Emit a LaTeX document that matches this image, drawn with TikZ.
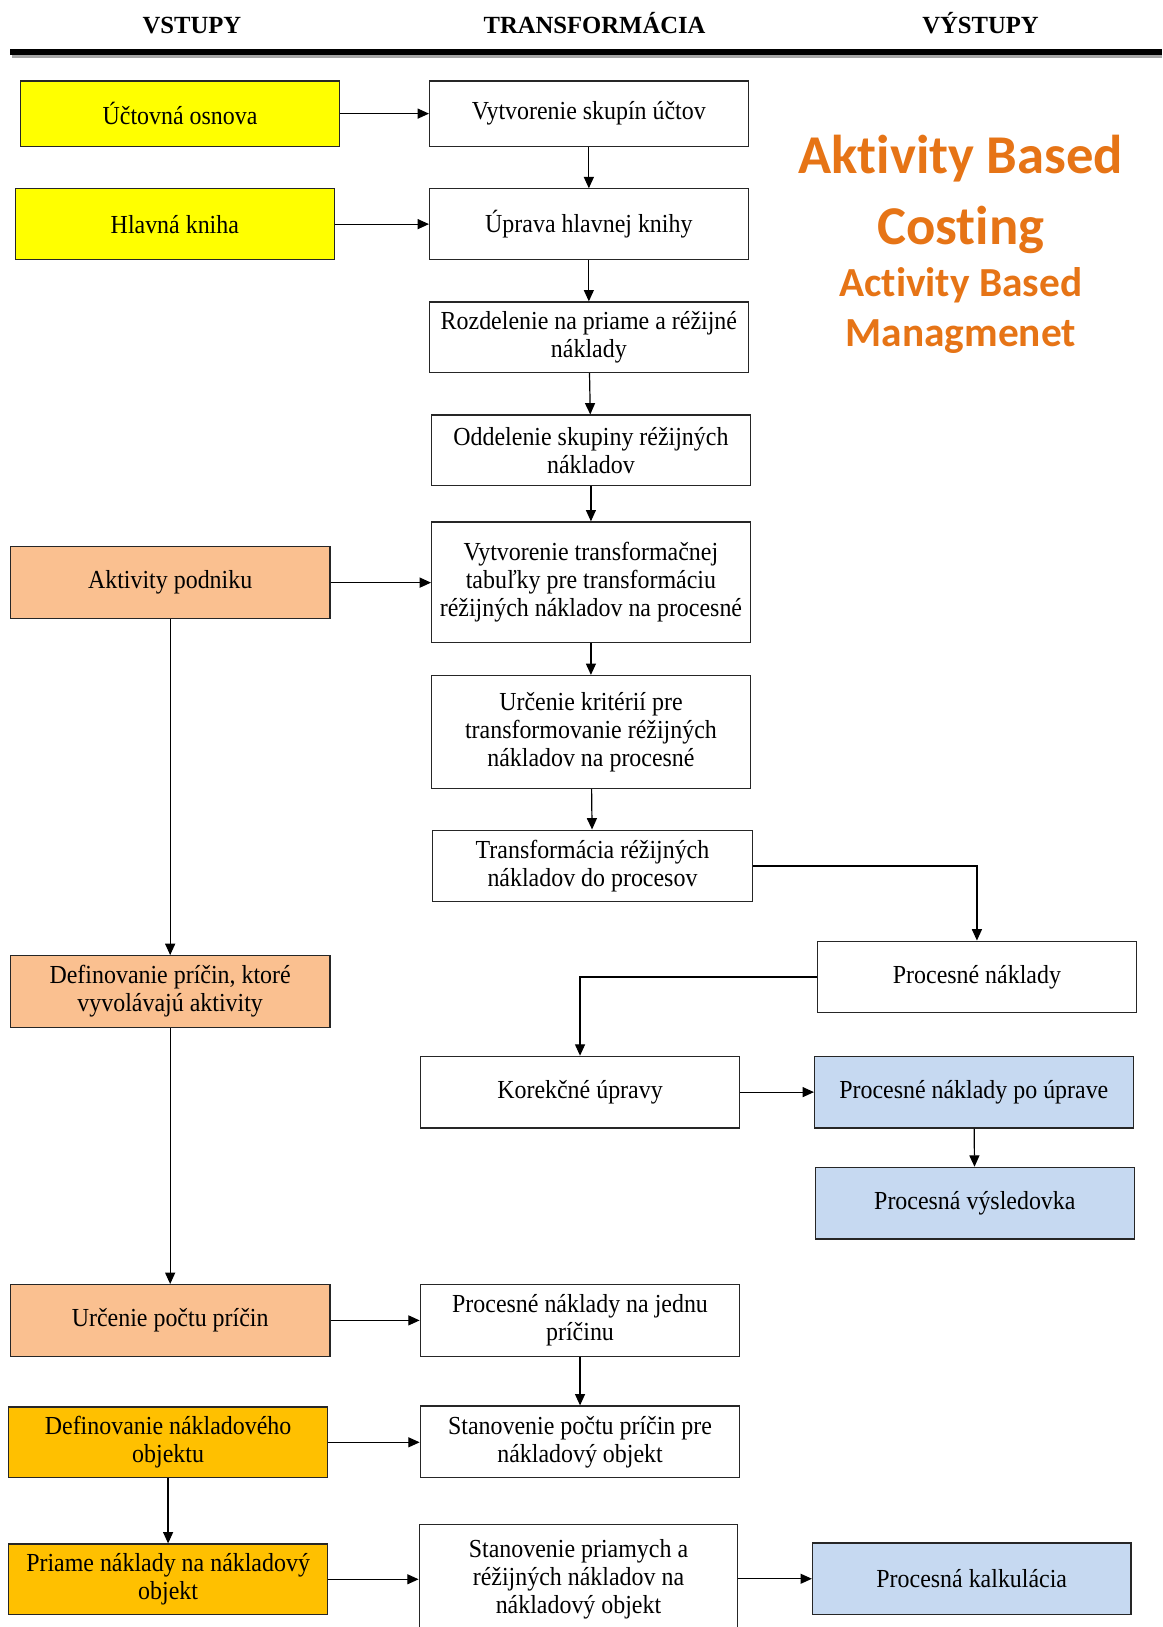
\documentclass[tikz,border=0pt]{standalone}
\usepackage{fontspec}
\setmainfont{Liberation Serif}
\newfontfamily\boxfont{Liberation Serif}[FakeStretch=0.92]
\newfontfamily\titlefont{Carlito}[Ligatures=NoCommon]
\usetikzlibrary{arrows.meta}

\definecolor{boxyellow}{HTML}{FFFF00}
\definecolor{boxpeach}{HTML}{FAC090}
\definecolor{boxgold}{HTML}{FFC000}
\definecolor{boxblue}{HTML}{C6D9F1}
\definecolor{titleorange}{RGB}{230,116,22}

% box given by its corners: name, style, x1, y1, x2, y2, text
\newcommand{\bx}[7]{%
  \node[#2, minimum width={(#5-#3)*0.778125pt}, minimum height={(#6-#4)*0.778125pt}]
    (#1) at ({(#3+#5)/2},{(#4+#6)/2}) {#7};}

\begin{document}
\begin{tikzpicture}[x=0.778125pt, y=-0.778125pt,
  box/.style={draw=black!85, line width=0.9pt, inner sep=0pt, align=center,
    font=\boxfont\fontsize{19.5}{21}\selectfont},
  yellowbox/.style={box, fill=boxyellow},
  peachbox/.style={box, fill=boxpeach},
  goldbox/.style={box, fill=boxgold},
  bluebox/.style={box, fill=boxblue},
  whitebox/.style={box, fill=white},
  conn/.style={draw=black, line width=0.9pt, -{Triangle[length=8.5pt, width=7.5pt]}},
  header/.style={font=\fontsize{18.5}{21}\selectfont\bfseries, anchor=base},
  bigtitle/.style={font=\titlefont\bfseries\fontsize{41}{48}\selectfont, text=titleorange, anchor=base},
  subtitle/.style={font=\titlefont\bfseries\fontsize{31}{36}\selectfont, text=titleorange, anchor=base}]

\path[use as bounding box] (0,0) rectangle (1120,1568);
\clip (0,0) rectangle (1120,1568);
\fill[white] (0,0) rectangle (1120,1568);

% column headings and the heavy rule beneath them
\node[header] (hin)  at (185,32) {VSTUPY};
\node[header] (htr)  at (573,32) {TRANSFORMÁCIA};
\node[header] (hout) at (945,32) {VÝSTUPY};
\draw[black!35, line width=4pt] (12,53) -- (1120,53);
\draw[black, line width=4.5pt] (10,50) -- (1120,50);

% title
\node[bigtitle] (t1) at (926,167) {Aktivity Based};
\node[bigtitle] (t2) at (926,236) {Costing};
\node[subtitle] (t3) at (926,286) {Activity Based};
\node[subtitle] (t4) at (926,334) {Managmenet};

% inputs
\bx{in1}{yellowbox}{20}{78}{327}{141}{Účtovná osnova}
\bx{in2}{yellowbox}{15}{182}{322}{250}{Hlavná kniha}
\bx{in3}{peachbox}{10}{527}{318}{596}{Aktivity podniku}
\bx{in4}{peachbox}{10}{921}{318}{990}{Definovanie príčin, ktoré\\vyvolávajú aktivity}
\bx{in5}{peachbox}{10}{1238}{318}{1307}{Určenie počtu príčin}
\bx{in6}{goldbox}{8}{1356}{316}{1424}{Definovanie nákladového\\objektu}
\bx{in7}{goldbox}{8}{1488}{316}{1556}{Priame náklady na nákladový\\objekt}

% transformation
\bx{tr1}{whitebox}{414}{78}{721}{141}{Vytvorenie skupín účtov}
\bx{tr2}{whitebox}{414}{182}{721}{250}{Úprava hlavnej knihy}
\bx{tr3}{whitebox}{414}{291}{721}{359}{Rozdelenie na priame a réžijné\\náklady}
\bx{tr4}{whitebox}{416}{400}{723}{468}{Oddelenie skupiny réžijných\\nákladov}
\bx{tr5}{whitebox}{416}{503}{723}{619}{Vytvorenie transformačnej\\tabuľky pre transformáciu\\réžijných nákladov na procesné}
\bx{tr6}{whitebox}{416}{651}{723}{760}{Určenie kritérií pre\\transformovanie réžijných\\nákladov na procesné}
\bx{tr7}{whitebox}{417}{800}{725}{869}{Transformácia réžijných\\nákladov do procesov}
\bx{tr8}{whitebox}{405}{1018}{713}{1087}{Korekčné úpravy}
\bx{tr9}{whitebox}{405}{1238}{713}{1307}{Procesné náklady na jednu\\príčinu}
\bx{tr10}{whitebox}{405}{1355}{713}{1424}{Stanovenie počtu príčin pre\\nákladový objekt}
\bx{tr11}{whitebox}{404}{1469}{711}{1575}{Stanovenie priamych a\\réžijných nákladov na\\nákladový objekt}

% outputs
\bx{out1}{whitebox}{788}{907}{1095}{976}{Procesné náklady}
\bx{out2}{bluebox}{785}{1018}{1092}{1087}{Procesné náklady po úprave}
\bx{out3}{bluebox}{786}{1125}{1093}{1194}{Procesná výsledovka}
\bx{out4}{bluebox}{783}{1487}{1090}{1556}{Procesná kalkulácia}

% connectors
\draw[conn] (in1) -- (tr1);
\draw[conn] (in2) -- (tr2);
\draw[conn] (tr1) -- (tr2);
\draw[conn] (tr2) -- (tr3);
\draw[conn] (tr3) -- (tr4);
\draw[conn] (tr4) -- (tr5);
\draw[conn] (tr5) -- (tr6);
\draw[conn] (tr6) -- (tr7);
\draw[conn] (tr7.east) -| (out1.north);
\draw[conn] (out1.west) -| (tr8.north);
\draw[conn] (tr8) -- (out2);
\draw[conn] (out2) -- (out3);
\draw[conn] (in3) -- (tr5.west |- in3.east);
\draw[conn] (in3) -- (in4);
\draw[conn] (in4) -- (in5);
\draw[conn] (in5) -- (tr9);
\draw[conn] (tr9) -- (tr10);
\draw[conn] (in6) -- (tr10.west |- in6.east);
\draw[conn] (in6) -- (in7);
\draw[conn] (in7) -- (tr11.west |- in7.east);
\draw[conn] (tr11.east |- out4.west) -- (out4);
\end{tikzpicture}
\end{document}
